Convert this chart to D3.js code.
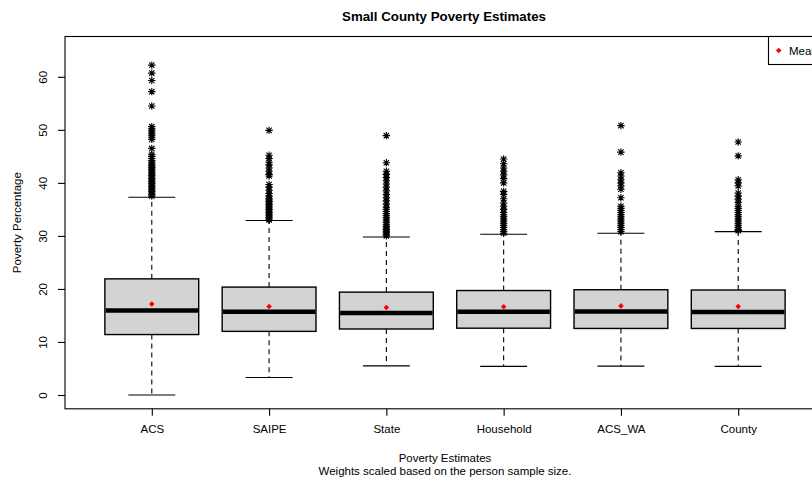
<!DOCTYPE html>
<html>
<head>
<meta charset="utf-8">
<script src="https://cdn.jsdelivr.net/npm/d3@7"></script>
<style>
  html, body { margin: 0; padding: 0; background: #fff; }
  svg { display: block; font-family: "Liberation Sans", Arial, Helvetica, sans-serif; }
</style>
</head>
<body>
<svg id="chart" width="812" height="480"></svg>
<script>
// Poverty estimate methods shown along the x axis
const categories = ["ACS", "SAIPE", "State", "Household", "ACS_WA", "County"];

// Five-number summaries per method (lower whisker, Q1, median, Q3, upper whisker)
const lowerWhisker = [0.0, 3.3, 5.5, 5.4, 5.45, 5.4];
const q1Values     = [11.4, 12.0, 12.45, 12.6, 12.55, 12.55];
const medianValues = [15.95, 15.7, 15.45, 15.7, 15.75, 15.65];
const q3Values     = [21.9, 20.35, 19.4, 19.7, 19.85, 19.8];
const upperWhisker = [37.3, 32.9, 29.8, 30.3, 30.5, 30.8];
const meanValues   = [17.15, 16.7, 16.5, 16.65, 16.8, 16.7];

// Outlying counties per method
const outliersACS = [62.2, 60.7, 59.3, 57.2, 54.5, 50.6, 50.2, 49.8, 49.4, 49.0, 48.6, 48.2,
  46.5, 45.4, 45.0, 44.6, 44.2, 43.8, 43.5, 43.2, 42.9, 42.6, 42.3, 42.0, 41.7, 41.4, 41.1,
  40.8, 40.5, 40.2, 39.9, 39.6, 39.3, 39.0, 38.7, 38.4, 38.1, 37.8, 37.5];
const outliersSAIPE = [49.9, 45.2, 44.6, 43.9, 43.4, 42.8, 42.2, 41.6, 41.3, 39.7, 39.2, 38.6,
  38.0, 37.5, 37.1, 36.8, 36.5, 36.2, 35.9, 35.6, 35.3, 35.0, 34.7, 34.4, 34.1, 33.8, 33.5, 33.2, 33.0];
const outliersState = [48.9, 43.8, 42.2, 41.6, 41.0, 40.4, 39.8, 39.2, 38.5, 37.8, 37.2, 36.6,
  36.0, 35.4, 35.0, 34.6, 34.2, 33.8, 33.4, 33.0, 32.6, 32.2, 31.8, 31.5, 31.2, 30.9, 30.6, 30.3, 30.0];
const outliersHousehold = [44.5, 43.6, 42.8, 42.2, 41.5, 40.8, 40.0, 38.4, 37.8, 37.0, 36.2,
  35.6, 35.0, 34.4, 34.0, 33.6, 33.2, 32.8, 32.4, 32.0, 31.6, 31.2, 30.8, 30.5];
const outliersACSWA = [50.8, 45.8, 41.9, 41.3, 40.6, 40.0, 39.4, 38.8, 37.2, 35.6, 35.2, 34.8,
  34.4, 34.0, 33.6, 33.2, 32.8, 32.4, 32.0, 31.6, 31.2, 30.8];
const outliersCounty = [47.7, 45.1, 40.6, 40.0, 39.4, 38.1, 37.5, 36.9, 36.3, 35.6, 35.2, 34.8,
  34.4, 34.0, 33.6, 33.2, 32.8, 32.4, 32.0, 31.6, 31.2, 31.0];
const outliers = [outliersACS, outliersSAIPE, outliersState, outliersHousehold, outliersACSWA, outliersCounty];

// Axis ticks
const yTicks = [0, 10, 20, 30, 40, 50, 60];

const svg = d3.select("#chart");
const plot = { left: 65, right: 825, top: 36.5, bottom: 408.8 };

// Positions 1..n with R-style 4% padding around [0.5, n + 0.5]
const x = d3.scaleLinear().domain([0.26, 6.74]).range([plot.left, plot.right]);
const y = d3.scaleLinear().domain([-2.6, 67.6]).range([plot.bottom, plot.top]);

const boxHalf = (x(1.4) - x(1)) ;      // box width 0.8
const stapleHalf = boxHalf / 2;

const table = categories.map((c, i) => ({
  name: c, pos: i + 1,
  lo: lowerWhisker[i], q1: q1Values[i], med: medianValues[i],
  q3: q3Values[i], hi: upperWhisker[i], mean: meanValues[i], out: outliers[i]
}));

const g = svg.append("g");

const box = g.selectAll("g.box").data(table).join("g").attr("class", "box");

// dashed whiskers
box.append("line")
  .attr("x1", d => x(d.pos)).attr("x2", d => x(d.pos))
  .attr("y1", d => y(d.q3)).attr("y2", d => y(d.hi))
  .attr("stroke", "#000").attr("stroke-width", 1.1).attr("stroke-dasharray", "5,4");
box.append("line")
  .attr("x1", d => x(d.pos)).attr("x2", d => x(d.pos))
  .attr("y1", d => y(d.q1)).attr("y2", d => y(d.lo))
  .attr("stroke", "#000").attr("stroke-width", 1.1).attr("stroke-dasharray", "5,4");

// staples
box.append("line")
  .attr("x1", d => x(d.pos) - stapleHalf).attr("x2", d => x(d.pos) + stapleHalf)
  .attr("y1", d => y(d.hi)).attr("y2", d => y(d.hi))
  .attr("stroke", "#000").attr("stroke-width", 1.1);
box.append("line")
  .attr("x1", d => x(d.pos) - stapleHalf).attr("x2", d => x(d.pos) + stapleHalf)
  .attr("y1", d => y(d.lo)).attr("y2", d => y(d.lo))
  .attr("stroke", "#000").attr("stroke-width", 1.1);

// boxes
box.append("rect")
  .attr("x", d => x(d.pos) - boxHalf)
  .attr("width", 2 * boxHalf)
  .attr("y", d => y(d.q3))
  .attr("height", d => y(d.q1) - y(d.q3))
  .attr("fill", "#d3d3d3").attr("stroke", "#000").attr("stroke-width", 1.4);

// medians
box.append("line")
  .attr("x1", d => x(d.pos) - boxHalf + 0.7).attr("x2", d => x(d.pos) + boxHalf - 0.7)
  .attr("y1", d => y(d.med)).attr("y2", d => y(d.med))
  .attr("stroke", "#000").attr("stroke-width", 4.5);

// asterisk outliers (pch 8)
const star = (s) => `M${-s},0H${s}M0,${-s}V${s}M${-s*0.72},${-s*0.72}L${s*0.72},${s*0.72}M${-s*0.72},${s*0.72}L${s*0.72},${-s*0.72}`;
box.each(function(d) {
  d3.select(this).selectAll("path.out").data(d.out).join("path")
    .attr("class", "out")
    .attr("transform", v => `translate(${x(d.pos)},${y(v)})`)
    .attr("d", star(3.7))
    .attr("fill", "none").attr("stroke", "#000").attr("stroke-width", 1.1);
});

// means
const diamond = (s) => `M0,${-s}L${s},0L0,${s}L${-s},0Z`;
box.append("path")
  .attr("transform", d => `translate(${x(d.pos)},${y(d.mean)})`)
  .attr("d", diamond(2.8))
  .attr("fill", "#ff0000");

// frame
svg.append("rect")
  .attr("x", plot.left).attr("y", plot.top)
  .attr("width", plot.right - plot.left).attr("height", plot.bottom - plot.top)
  .attr("fill", "none").attr("stroke", "#000").attr("stroke-width", 1.1);

// y axis
const yAxis = svg.append("g")
  .attr("transform", `translate(${plot.left},0)`)
  .call(d3.axisLeft(y).tickValues(yTicks).tickSize(7).tickPadding(0));
yAxis.select(".domain").remove();
yAxis.selectAll(".tick line").attr("stroke", "#000").attr("stroke-width", 1.1);
yAxis.selectAll(".tick text")
  .attr("x", null).attr("dy", null)
  .attr("text-anchor", "middle")
  .attr("transform", "translate(-18,0) rotate(-90)")
  .attr("font-size", 11.5).attr("fill", "#000")
  .attr("font-family", "Liberation Sans, Arial, sans-serif");

// x axis
const xAxis = svg.append("g")
  .attr("transform", `translate(0,${plot.bottom})`)
  .call(d3.axisBottom(x).tickValues(d3.range(1, categories.length + 1))
    .tickFormat(i => categories[i - 1]).tickSize(7).tickPadding(9));
xAxis.select(".domain").remove();
xAxis.selectAll(".tick line").attr("stroke", "#000").attr("stroke-width", 1.1);
xAxis.selectAll(".tick text")
  .attr("font-size", 11.5).attr("fill", "#000")
  .attr("font-family", "Liberation Sans, Arial, sans-serif");

// titles
const cx = (plot.left + plot.right) / 2;
svg.append("text").attr("x", cx - 1).attr("y", 21)
  .attr("text-anchor", "middle").attr("font-size", 13.3).attr("font-weight", "bold")
  .text("Small County Poverty Estimates");
svg.append("text").attr("x", cx).attr("y", 461.5)
  .attr("text-anchor", "middle").attr("font-size", 11.5)
  .text("Poverty Estimates");
svg.append("text").attr("x", cx).attr("y", 475)
  .attr("text-anchor", "middle").attr("font-size", 11.5)
  .text("Weights scaled based on the person sample size.");
svg.append("text")
  .attr("transform", `translate(21,${(plot.top + plot.bottom) / 2}) rotate(-90)`)
  .attr("text-anchor", "middle").attr("font-size", 11.5)
  .text("Poverty Percentage");

// legend (top-right corner of the plot region)
const legend = svg.append("g");
legend.append("rect")
  .attr("x", 768.5).attr("y", plot.top)
  .attr("width", plot.right - 768.5).attr("height", 28)
  .attr("fill", "#fff").attr("stroke", "#000").attr("stroke-width", 1.1);
legend.append("path")
  .attr("transform", `translate(778.7,${plot.top + 14})`)
  .attr("d", diamond(2.8)).attr("fill", "#ff0000");
legend.append("text")
  .attr("x", 789).attr("y", plot.top + 18)
  .attr("font-size", 11.5).text("Mean");
</script>
</body>
</html>
